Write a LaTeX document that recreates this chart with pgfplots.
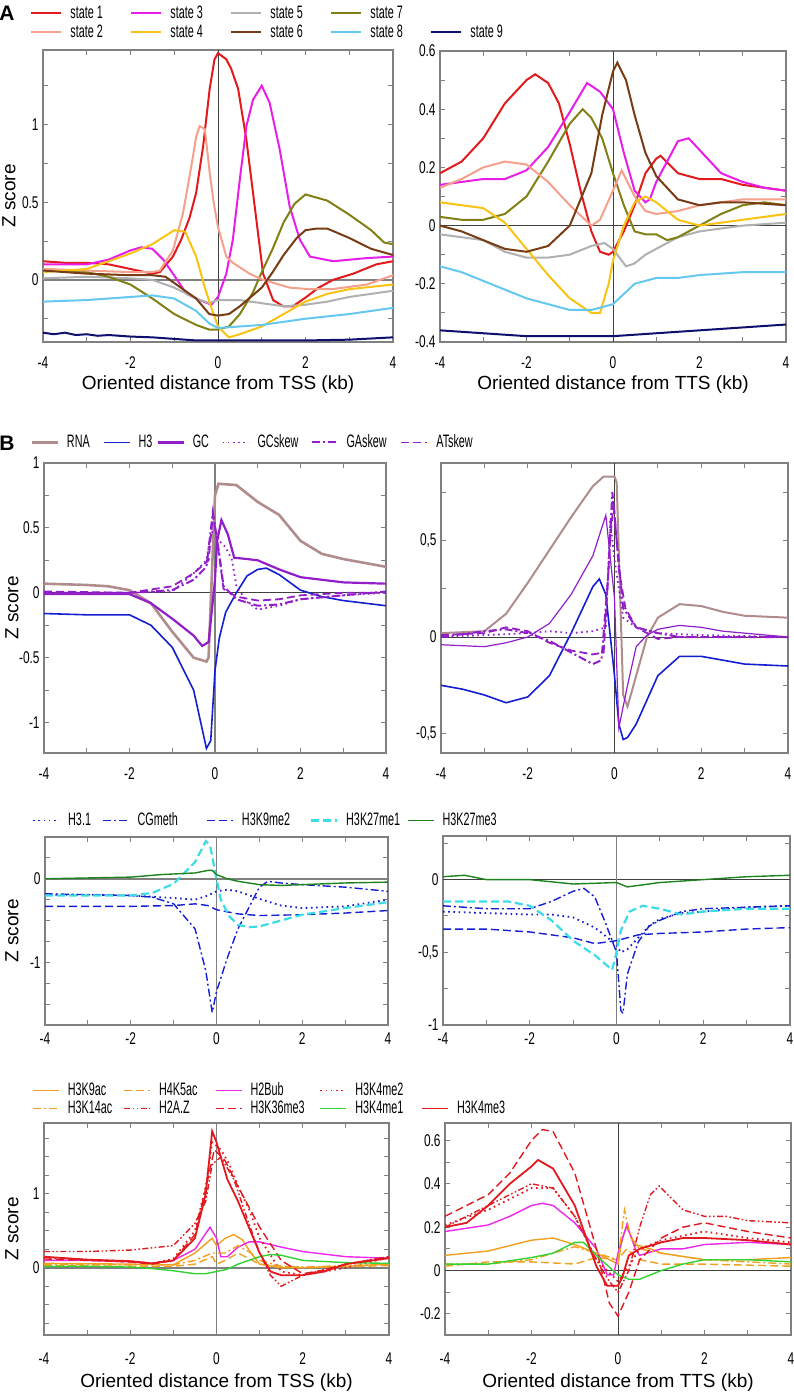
\documentclass[border=0pt]{standalone}
\usepackage{pgfplots}
\pgfplotsset{compat=1.18}
\usepackage{fontspec}
\setmainfont{Liberation Sans}
\newfontfamily\narrow{Liberation Sans}[FakeStretch=0.7]
\newfontfamily\narrowL{Liberation Sans}[FakeStretch=0.6]

\definecolor{axgray}{RGB}{128,128,128}
\definecolor{sA}{RGB}{226,26,28}
\definecolor{sB}{RGB}{245,160,140}
\definecolor{sC}{RGB}{232,30,232}
\definecolor{sD}{RGB}{250,195,20}
\definecolor{sE}{RGB}{176,176,176}
\definecolor{sF}{RGB}{120,60,20}
\definecolor{sG}{RGB}{128,128,20}
\definecolor{sH}{RGB}{100,200,240}
\definecolor{sI}{RGB}{15,15,110}
\definecolor{rna}{RGB}{176,140,140}
\definecolor{hblue}{RGB}{20,30,210}
\definecolor{gcpur}{RGB}{145,30,200}
\definecolor{hcyan}{RGB}{60,220,230}
\definecolor{hgreen}{RGB}{30,130,30}
\definecolor{horange}{RGB}{240,160,30}
\definecolor{hred}{RGB}{225,25,30}
\definecolor{hmag}{RGB}{235,40,235}
\definecolor{hlime}{RGB}{50,210,50}

\tikzset{
  dsh/.style={dash pattern=on 4pt off 2pt},
  dtt/.style={dash pattern=on 0.8pt off 1.8pt},
  dd/.style={dash pattern=on 4pt off 1.5pt on 1pt off 1.5pt},
  ddd/.style={dash pattern=on 3pt off 1.2pt on 0.8pt off 1.2pt on 0.8pt off 1.2pt},
  zl/.style={draw=axgray, line width=0.9pt},
  zk/.style={draw=black!75, line width=0.4pt},
}
\newcommand{\lt}[2]{\makebox[#1][l]{#2}}

\pgfplotsset{
  panel/.style={
    scale only axis, anchor=north west,
    xmin=-4, xmax=4,
    xtick={-4,-2,0,2,4}, xticklabels={-4,-2,0,2,4},
    minor xtick={-3,-1,1,3},
    tick align=inside,
    major tick length=2.6pt, minor tick length=2.6pt,
    axis line style={draw=axgray, line width=0.6pt},
    every tick/.style={draw=axgray, line width=0.5pt},
    tick label style={font=\narrow\fontsize{8.5}{9.5}\selectfont, inner sep=2pt},
    every axis x label/.style={anchor=center, font=\fontsize{9.5}{11}\selectfont},
    every axis y label/.style={anchor=center, rotate=90, font=\fontsize{9.5}{11}\selectfont},
    legend style={draw=none, fill=none, inner sep=0pt, anchor=north west,
      cells={anchor=west},
      nodes={inner sep=0pt, text height=6.5pt, text depth=1.8pt, font=\narrowL\fontsize{9}{10}\selectfont},
      /tikz/every odd column/.style={column sep=4pt},
      /tikz/row sep=1.2pt},
  },
}

\begin{document}
\begin{tikzpicture}
\useasboundingbox (0,0) rectangle (396.5pt,-698.5pt);

\node[font=\bfseries\fontsize{10.5}{12}\selectfont] at (3.5pt,-6.5pt) {A};
\node[font=\bfseries\fontsize{10.5}{12}\selectfont] at (3.5pt,-221.5pt) {B};

% ---------- A, TSS
\begin{axis}[panel, at={(21.5pt,-25pt)}, width=175pt, height=146pt,
  ymin=-0.4, ymax=1.48, ytick={0,0.5,1}, yticklabels={0,0.5,1},
  minor ytick={-0.25,0.25,0.75,1.25},
  xticklabel style={yshift=-5pt},
  xlabel={Oriented distance from TSS (kb)}, xlabel style={at={(axis description cs:0.5,-0.147)}},
  ylabel={Z score}, ylabel style={at={(axis description cs:-0.097,0.5)}},
  legend columns=5, legend style={at={(axis description cs:-0.0371,1.155)}},
  legend image code/.code={\draw[#1] (0pt,0pt) -- (15pt,0pt);},
  every axis plot/.append style={line width=1pt}]
\addplot[forget plot, zl] coordinates {(-4,0) (4,0)};
\addplot[forget plot, zk] coordinates {(0,-0.4) (0,1.48)};
\addplot[sA] coordinates {(-4,0.12) (-3.5,0.11) (-3,0.11) (-2.5,0.1) (-2,0.07) (-1.5,0.04) (-1.33,0.05) (-1.03,0.15) (-0.84,0.26) (-0.65,0.4) (-0.5,0.56) (-0.34,0.86) (-0.19,1.23) (-0.08,1.42) (0,1.46) (0.19,1.42) (0.3,1.36) (0.46,1.23) (0.65,0.9) (0.84,0.47) (1.03,0.04) (1.26,-0.13) (1.49,-0.17) (1.71,-0.17) (2.02,-0.11) (2.3,-0.05) (2.63,0.0) (3.09,0.04) (3.62,0.1) (4,0.12)};
\addlegendentry{\lt{30pt}{state 1}}
\addplot[sC] coordinates {(-4,0.1) (-3,0.1) (-2.5,0.13) (-2,0.19) (-1.75,0.21) (-1.5,0.2) (-1.25,0.13) (-1.03,0.04) (-0.72,-0.09) (-0.42,-0.13) (-0.15,-0.16) (0,-0.11) (0.19,0.04) (0.34,0.26) (0.5,0.65) (0.65,0.99) (0.8,1.16) (1.0,1.25) (1.18,1.14) (1.41,0.84) (1.64,0.47) (1.87,0.26) (2.1,0.15) (2.63,0.12) (3.39,0.14) (4,0.15)};
\addlegendentry{\lt{30pt}{state 3}}
\addplot[sE] coordinates {(-4,0.01) (-3,0.02) (-2,0.01) (-1.5,0.0) (-1,-0.05) (-0.5,-0.12) (-0.2,-0.15) (0,-0.13) (0.5,-0.13) (1.0,-0.15) (1.5,-0.17) (2.0,-0.16) (2.5,-0.14) (3,-0.11) (4,-0.07)};
\addlegendentry{\lt{30pt}{state 5}}
\addplot[sG] coordinates {(-4,0.07) (-3,0.05) (-2.5,0.02) (-2,-0.03) (-1.5,-0.12) (-1,-0.22) (-0.5,-0.29) (-0.2,-0.32) (0,-0.32) (0.25,-0.3) (0.5,-0.22) (0.8,-0.08) (1.0,0.05) (1.25,0.2) (1.5,0.37) (1.75,0.49) (2.0,0.55) (2.5,0.51) (3.0,0.42) (3.5,0.32) (3.8,0.24) (4,0.23)};
\addlegendentry{\lt{30pt}{state 7}}
\addlegendimage{empty legend}
\addlegendentry{}
\addplot[sB] coordinates {(-4,0.07) (-3,0.06) (-2,0.05) (-1.5,0.05) (-1.33,0.06) (-1.03,0.19) (-0.8,0.43) (-0.61,0.73) (-0.5,0.92) (-0.42,0.99) (-0.3,0.97) (-0.19,0.69) (-0.1,0.5) (0,0.34) (0.19,0.15) (0.34,0.11) (0.72,0.04) (1.03,0.0) (1.64,-0.05) (2.1,-0.06) (2.6,-0.06) (3.4,-0.03) (4,0.03)};
\addlegendentry{\lt{30pt}{state 2}}
\addplot[sD] coordinates {(-4,0.05) (-3,0.07) (-2.5,0.12) (-2,0.17) (-1.5,0.23) (-1.0,0.32) (-0.75,0.31) (-0.5,0.15) (-0.3,-0.05) (-0.15,-0.18) (0,-0.3) (0.25,-0.37) (0.5,-0.35) (1.0,-0.3) (1.5,-0.22) (2.0,-0.14) (2.5,-0.09) (3.0,-0.06) (4,-0.03)};
\addlegendentry{\lt{30pt}{state 4}}
\addplot[sF] coordinates {(-4,0.06) (-3,0.04) (-2,0.03) (-1.5,0.03) (-1.2,0.02) (-1.0,-0.02) (-0.5,-0.12) (-0.2,-0.22) (0,-0.23) (0.25,-0.22) (0.5,-0.17) (1,-0.05) (1.25,0.05) (1.5,0.16) (1.8,0.27) (2.0,0.32) (2.25,0.33) (2.5,0.33) (3.0,0.27) (3.5,0.2) (4,0.16)};
\addlegendentry{\lt{30pt}{state 6}}
\addplot[sH] coordinates {(-4,-0.14) (-3,-0.13) (-2,-0.11) (-1.5,-0.1) (-1,-0.12) (-0.5,-0.2) (-0.2,-0.28) (0,-0.31) (0.5,-0.3) (1.0,-0.29) (1.5,-0.27) (2,-0.25) (3,-0.22) (4,-0.18)};
\addlegendentry{\lt{30pt}{state 8}}
\addplot[sI] coordinates {(-4,-0.34) (-3.75,-0.35) (-3.5,-0.34) (-3.25,-0.355) (-3,-0.35) (-2.75,-0.36) (-2.5,-0.355) (-2,-0.365) (-1.5,-0.37) (-1,-0.38) (-0.5,-0.39) (0,-0.39) (1,-0.39) (2,-0.39) (3,-0.385) (4,-0.37)};
\addlegendentry{\lt{30pt}{state 9}}
\end{axis}

% ---------- A, TTS
\begin{axis}[panel, at={(220pt,-25.5pt)}, width=173pt, height=145.5pt,
  ymin=-0.4, ymax=0.6, ytick={-0.4,-0.2,0,0.2,0.4,0.6}, yticklabels={-0.4,-0.2,0,0.2,0.4,0.6},
  minor ytick={-0.3,-0.1,0.1,0.3,0.5},
  xticklabel style={yshift=-5pt},
  xlabel={Oriented distance from TTS (kb)}, xlabel style={at={(axis description cs:0.5,-0.148)}},
  every axis plot/.append style={line width=1pt}]
\addplot[forget plot, zk] coordinates {(-4,0) (4,0)};
\addplot[forget plot, zk] coordinates {(0,-0.4) (0,0.6)};
\addplot[sA] coordinates {(-4,0.18) (-3.75,0.2) (-3.5,0.22) (-3.25,0.26) (-3,0.3) (-2.75,0.36) (-2.5,0.42) (-2.25,0.46) (-2,0.5) (-1.8,0.52) (-1.5,0.49) (-1.25,0.42) (-1,0.28) (-0.75,0.12) (-0.5,-0.02) (-0.3,-0.09) (-0.1,-0.1) (0,-0.09) (0.25,-0.02) (0.5,0.07) (0.75,0.18) (1,0.23) (1.1,0.24) (1.5,0.18) (2,0.16) (2.5,0.16) (3,0.14) (3.5,0.13) (4,0.12)};
\addplot[sC] coordinates {(-4,0.14) (-3.5,0.15) (-3,0.16) (-2.5,0.16) (-2,0.19) (-1.5,0.27) (-1,0.39) (-0.6,0.49) (-0.3,0.46) (0,0.4) (0.25,0.25) (0.5,0.12) (0.75,0.08) (0.85,0.09) (1,0.15) (1.25,0.22) (1.5,0.29) (1.75,0.3) (2,0.26) (2.5,0.18) (3,0.15) (3.5,0.13) (4,0.12)};
\addplot[sE] coordinates {(-4,-0.03) (-3,-0.05) (-2.5,-0.09) (-2,-0.11) (-1.5,-0.11) (-1,-0.1) (-0.5,-0.07) (-0.2,-0.06) (0,-0.08) (0.3,-0.14) (0.5,-0.13) (0.75,-0.1) (1,-0.08) (1.5,-0.04) (2,-0.02) (3,0.0) (4,0.01)};
\addplot[sG] coordinates {(-4,0.03) (-3.5,0.02) (-3,0.02) (-2.5,0.04) (-2,0.1) (-1.5,0.22) (-1,0.35) (-0.7,0.4) (-0.5,0.37) (-0.25,0.3) (0,0.18) (0.25,0.07) (0.5,-0.02) (0.75,-0.03) (1,-0.03) (1.25,-0.05) (1.5,-0.04) (2,0.0) (2.5,0.04) (3,0.07) (3.5,0.08) (4,0.07)};
\addplot[sB] coordinates {(-4,0.13) (-3.5,0.16) (-3,0.2) (-2.5,0.22) (-2,0.21) (-1.5,0.15) (-1,0.07) (-0.5,0.0) (-0.3,0.02) (0,0.12) (0.2,0.19) (0.5,0.1) (0.75,0.05) (1,0.04) (1.5,0.05) (2,0.07) (2.5,0.08) (3,0.09) (4,0.09)};
\addplot[sD] coordinates {(-4,0.08) (-3.5,0.07) (-3,0.06) (-2.5,0.01) (-2,-0.08) (-1.5,-0.17) (-1,-0.25) (-0.5,-0.3) (-0.3,-0.3) (-0.1,-0.2) (0,-0.12) (0.25,0.0) (0.5,0.08) (0.75,0.1) (1,0.08) (1.5,0.02) (2,0.0) (2.5,0.01) (3,0.02) (4,0.04)};
\addplot[sF] coordinates {(-4,0.0) (-3.5,-0.02) (-3,-0.05) (-2.5,-0.08) (-2,-0.09) (-1.5,-0.07) (-1,0.0) (-0.5,0.18) (-0.25,0.38) (0,0.53) (0.1,0.56) (0.3,0.5) (0.5,0.38) (0.75,0.25) (1,0.17) (1.5,0.09) (2,0.07) (2.5,0.08) (3,0.08) (4,0.07)};
\addplot[sH] coordinates {(-4,-0.14) (-3.5,-0.16) (-3,-0.19) (-2.5,-0.22) (-2,-0.25) (-1.5,-0.27) (-1,-0.29) (-0.5,-0.29) (0,-0.27) (0.5,-0.2) (1,-0.18) (1.5,-0.18) (2,-0.17) (3,-0.16) (4,-0.16)};
\addplot[sI] coordinates {(-4,-0.36) (-3,-0.37) (-2,-0.38) (-1,-0.38) (0,-0.38) (1,-0.37) (2,-0.36) (3,-0.35) (4,-0.34)};
\end{axis}

% ---------- B1, TSS
\begin{axis}[panel, at={(22pt,-231.5pt)}, width=171pt, height=145pt,
  ymin=-1.235, ymax=1, ytick={-1,-0.5,0,0.5,1}, yticklabels={-1,-0.5,0,0.5,1},
  minor ytick={-0.75,-0.25,0.25,0.75},
  xticklabel style={yshift=-5pt},
  ylabel={Z score}, ylabel style={at={(axis description cs:-0.0936,0.5)}},
  legend columns=6, legend style={at={(axis description cs:-0.041,1.101)}},
  legend image code/.code={\draw[#1] (0pt,0pt) -- (13pt,0pt);}]
\addplot[forget plot, zk] coordinates {(-4,0) (4,0)};
\addplot[forget plot, zl] coordinates {(0,-1.235) (0,1)};
\addplot[rna, line width=1.3pt] coordinates {(-4,0.07) (-3,0.06) (-2.5,0.05) (-2,0.02) (-1.5,-0.08) (-1,-0.3) (-0.5,-0.5) (-0.2,-0.53) (-0.15,-0.5) (-0.03,0.5) (0,0.75) (0.08,0.84) (0.5,0.83) (1,0.7) (1.5,0.6) (2,0.4) (2.5,0.3) (3,0.26) (3.5,0.23) (4,0.2)};
\addlegendentry{\lt{18pt}{RNA}}
\addplot[hblue, line width=0.8pt] coordinates {(-4,-0.16) (-3,-0.17) (-2,-0.17) (-1.5,-0.25) (-1,-0.42) (-0.5,-0.75) (-0.3,-1.05) (-0.2,-1.2) (-0.1,-1.14) (0,-0.6) (0.1,-0.35) (0.25,-0.15) (0.5,0.0) (0.75,0.13) (1,0.18) (1.2,0.19) (1.5,0.14) (2,0.02) (2.5,-0.03) (3,-0.06) (3.5,-0.08) (4,-0.1)};
\addlegendentry{\lt{9pt}{H3}}
\addplot[gcpur, line width=1.1pt] coordinates {(-4,-0.01) (-3,-0.01) (-2,-0.01) (-1.5,-0.08) (-1,-0.2) (-0.5,-0.33) (-0.3,-0.41) (-0.15,-0.38) (0,0.1) (0.05,0.4) (0.15,0.56) (0.3,0.45) (0.45,0.27) (0.75,0.26) (1,0.25) (1.5,0.18) (2,0.12) (3,0.08) (4,0.07)};
\addlegendentry{\lt{14.5pt}{GC}}
\addplot[gcpur, line width=0.9pt, dtt] coordinates {(-4,0.0) (-2,0.0) (-1,0.01) (-0.5,0.15) (-0.2,0.25) (-0.1,0.45) (0,0.5) (0.1,0.4) (0.25,0.35) (0.4,0.25) (0.5,0.05) (0.75,-0.07) (1,-0.13) (1.5,-0.1) (2,-0.05) (3,-0.02) (4,0.0)};
\addlegendentry{\lt{26.5pt}{GCskew}}
\addplot[gcpur, line width=1pt, dd] coordinates {(-4,0.0) (-2,0.0) (-1,0.02) (-0.5,0.1) (-0.2,0.2) (-0.05,0.62) (0.1,0.3) (0.2,0.05) (0.5,-0.05) (1,-0.1) (1.5,-0.09) (2,-0.05) (3,-0.02) (4,0.01)};
\addlegendentry{\lt{27pt}{GAskew}}
\addplot[gcpur, line width=0.9pt, dsh] coordinates {(-4,0.01) (-2,0.0) (-1,0.05) (-0.5,0.15) (-0.15,0.25) (-0.05,0.6) (0.05,0.4) (0.2,0.03) (0.5,-0.03) (1,-0.06) (1.5,-0.05) (2,-0.02) (3,0.0) (4,0.0)};
\addlegendentry{\lt{25pt}{ATskew}}
\end{axis}

% ---------- B1, TTS
\begin{axis}[panel, at={(220.5pt,-231.5pt)}, width=173.5pt, height=145pt,
  ymin=-0.6, ymax=0.9, ytick={-0.5,0,0.5}, yticklabels={-0{,}5,0,0{,}5},
  minor ytick={-0.25,0.25,0.75},
  xticklabel style={yshift=-5pt}]
\addplot[forget plot, zk] coordinates {(-4,0) (4,0)};
\addplot[forget plot, zk] coordinates {(0,-0.6) (0,0.9)};
\addplot[rna, line width=1pt] coordinates {(-4,0.02) (-3,0.03) (-2.5,0.12) (-2,0.28) (-1.5,0.45) (-1,0.62) (-0.5,0.78) (-0.25,0.83) (0,0.83) (0.05,0.8) (0.2,-0.3) (0.3,-0.36) (0.5,-0.2) (0.75,0.0) (1,0.1) (1.5,0.17) (2,0.16) (2.5,0.13) (3,0.11) (4,0.1)};
\addplot[hblue, line width=0.8pt] coordinates {(-4,-0.25) (-3.5,-0.27) (-3,-0.3) (-2.5,-0.34) (-2,-0.31) (-1.5,-0.2) (-1,0.02) (-0.5,0.26) (-0.35,0.3) (-0.2,0.22) (0,-0.2) (0.1,-0.45) (0.2,-0.53) (0.3,-0.52) (0.5,-0.45) (1,-0.2) (1.5,-0.1) (2,-0.1) (2.5,-0.12) (3,-0.14) (4,-0.15)};
\addplot[gcpur, line width=0.6pt] coordinates {(-4,-0.04) (-3,-0.05) (-2.5,-0.03) (-2,0.0) (-1.5,0.07) (-1,0.22) (-0.5,0.42) (-0.2,0.63) (0,0.2) (0.1,-0.47) (0.3,-0.25) (0.5,-0.05) (0.75,0.01) (1,0.04) (1.5,0.06) (2,0.05) (2.5,0.03) (3,0.02) (4,0.0)};
\addplot[gcpur, line width=0.9pt, dtt] coordinates {(-4,0.0) (-2,0.02) (-1.5,0.03) (-1,0.02) (-0.5,0.03) (-0.2,0.05) (-0.1,0.6) (0,0.4) (0.2,0.1) (0.5,0.05) (1,0.02) (2,0.01) (4,0.0)};
\addplot[gcpur, line width=1pt, dd] coordinates {(-4,0.0) (-3,0.03) (-2.5,0.04) (-2,0.02) (-1.5,-0.02) (-1,-0.08) (-0.5,-0.14) (-0.3,-0.12) (-0.15,0.3) (-0.05,0.75) (0.05,0.5) (0.2,0.15) (0.5,0.05) (1,0.02) (1.5,0.0) (4,0.0)};
\addplot[gcpur, line width=0.9pt, dsh] coordinates {(-4,0.01) (-3,0.02) (-2.5,0.05) (-2,0.03) (-1.5,-0.03) (-1,-0.07) (-0.5,-0.09) (-0.25,-0.08) (-0.1,0.5) (-0.02,0.7) (0.1,0.35) (0.25,0.15) (0.5,0.05) (1,-0.01) (1.5,0.0) (4,0.0)};
\end{axis}

% ---------- B2, TSS
\begin{axis}[panel, at={(22.5pt,-418.5pt)}, width=171.5pt, height=94pt,
  ymin=-1.75, ymax=0.5, ytick={-1,0}, yticklabels={-1,0},
  minor ytick={-1.5,-1.25,-0.75,-0.5,-0.25,0.25},
  xticklabel style={yshift=-1.5pt},
  ylabel={Z score}, ylabel style={at={(axis description cs:-0.0962,0.5)}},
  legend columns=5, legend style={at={(axis description cs:-0.0379,1.1346)}},
  legend image code/.code={\draw[#1] (0pt,0pt) -- (13pt,0pt);},
  every axis plot/.append style={line width=0.7pt}]
\addplot[forget plot, zl] coordinates {(-4,0) (4,0)};
\addplot[forget plot, zl] coordinates {(0,-1.75) (0,0.5)};
\addplot[hblue, dtt, line width=0.9pt] coordinates {(-4,-0.19) (-3,-0.19) (-2,-0.2) (-1,-0.23) (-0.5,-0.25) (-0.2,-0.2) (0,-0.15) (0.25,-0.13) (0.5,-0.15) (1,-0.24) (1.5,-0.32) (2,-0.35) (3,-0.33) (4,-0.25)};
\addlegendentry{\lt{17pt}{H3.1}}
\addplot[hblue, dd] coordinates {(-4,-0.18) (-3,-0.19) (-2,-0.2) (-1.5,-0.22) (-1,-0.3) (-0.5,-0.6) (-0.25,-1.1) (-0.1,-1.6) (0,-1.35) (0.25,-0.95) (0.5,-0.6) (0.75,-0.35) (1,-0.1) (1.2,-0.03) (1.5,-0.05) (2,-0.07) (3,-0.1) (4,-0.15)};
\addlegendentry{\lt{34.5pt}{CGmeth}}
\addplot[hblue, dsh] coordinates {(-4,-0.33) (-2,-0.33) (-1,-0.32) (-0.5,-0.3) (-0.2,-0.32) (0,-0.37) (0.5,-0.42) (1,-0.44) (2,-0.43) (3,-0.41) (4,-0.38)};
\addlegendentry{\lt{34pt}{H3K9me2}}
\addplot[hcyan, dsh, line width=1.1pt] coordinates {(-4,-0.2) (-3,-0.2) (-2,-0.2) (-1.5,-0.17) (-1,-0.06) (-0.5,0.2) (-0.25,0.45) (-0.15,0.4) (0,0.0) (0.1,-0.25) (0.3,-0.45) (0.5,-0.55) (0.75,-0.58) (1,-0.57) (1.5,-0.5) (2,-0.43) (3,-0.35) (4,-0.28)};
\addlegendentry{\lt{30.5pt}{H3K27me1}}
\addplot[hgreen] coordinates {(-4,0.0) (-3,0.01) (-2,0.02) (-1.3,0.05) (-0.5,0.07) (-0.2,0.1) (-0.1,0.1) (0,0.05) (0.25,0.0) (0.5,-0.03) (1,-0.07) (1.5,-0.08) (2,-0.07) (3,-0.05) (4,-0.04)};
\addlegendentry{\lt{30pt}{H3K27me3}}
\end{axis}

% ---------- B2, TTS
\begin{axis}[panel, at={(221.5pt,-418pt)}, width=173.5pt, height=94.5pt,
  ymin=-1, ymax=0.3, ytick={-1,-0.5,0}, yticklabels={-1,-0{,}5,0},
  minor ytick={-0.75,-0.25,0.25},
  xticklabel style={yshift=-1.5pt},
  every axis plot/.append style={line width=0.7pt}]
\addplot[forget plot, zk] coordinates {(-4,0) (4,0)};
\addplot[forget plot, zl] coordinates {(0,-1) (0,0.3)};
\addplot[hblue, dtt, line width=0.9pt] coordinates {(-4,-0.22) (-2,-0.24) (-1.5,-0.24) (-1,-0.26) (-0.5,-0.33) (-0.2,-0.4) (0,-0.45) (0.1,-0.5) (0.25,-0.48) (0.5,-0.4) (0.75,-0.32) (1,-0.27) (1.5,-0.23) (2,-0.22) (3,-0.19) (4,-0.18)};
\addplot[hblue, dd] coordinates {(-4,-0.18) (-3,-0.2) (-2,-0.2) (-1.5,-0.15) (-1,-0.08) (-0.75,-0.06) (-0.5,-0.12) (-0.25,-0.3) (-0.1,-0.42) (0,-0.5) (0.1,-0.9) (0.15,-0.92) (0.25,-0.65) (0.5,-0.43) (0.75,-0.32) (1,-0.28) (1.5,-0.22) (2,-0.2) (3,-0.19) (4,-0.18)};
\addplot[hblue, dsh] coordinates {(-4,-0.34) (-3,-0.34) (-2,-0.36) (-1,-0.4) (-0.5,-0.44) (0,-0.42) (0.5,-0.38) (1,-0.37) (2,-0.36) (3,-0.34) (4,-0.33)};
\addplot[hcyan, dsh, line width=1.1pt] coordinates {(-4,-0.15) (-3,-0.15) (-2.5,-0.15) (-2,-0.18) (-1.5,-0.28) (-1,-0.42) (-0.5,-0.52) (-0.1,-0.62) (0,-0.5) (0.1,-0.35) (0.3,-0.22) (0.6,-0.18) (1,-0.2) (1.5,-0.24) (2,-0.22) (3,-0.2) (4,-0.2)};
\addplot[hgreen] coordinates {(-4,0.02) (-3.5,0.03) (-3,0.0) (-2,0.0) (-1,-0.03) (0,-0.02) (0.25,-0.05) (1,-0.02) (2,0.0) (3,0.02) (4,0.03)};
\end{axis}

% ---------- B3, TSS
\begin{axis}[panel, at={(22pt,-561.5pt)}, width=172.5pt, height=106pt,
  ymin=-0.91, ymax=1.96, ytick={0,1}, yticklabels={0,1},
  minor ytick={-0.75,-0.5,-0.25,0.25,0.5,0.75,1.25,1.5,1.75},
  xticklabel style={yshift=-6.5pt},
  xlabel={Oriented distance from TSS (kb)}, xlabel style={at={(axis description cs:0.5,-0.226)}},
  ylabel={Z score}, ylabel style={at={(axis description cs:-0.0928,0.5)}},
  legend columns=5, legend style={at={(axis description cs:-0.0348,1.1948)}, /tikz/row sep=0.7pt},
  legend image code/.code={\draw[#1] (0pt,0pt) -- (13pt,0pt);},
  every axis plot/.append style={line width=0.7pt}]
\addplot[forget plot, zl] coordinates {(-4,0) (4,0)};
\addplot[forget plot, zl] coordinates {(0,-0.91) (0,1.96)};
\addplot[horange] coordinates {(-4,0.06) (-2,0.05) (-1,0.04) (-0.5,0.2) (-0.1,0.4) (0,0.3) (0.2,0.4) (0.4,0.45) (0.6,0.38) (0.8,0.2) (1,0.05) (1.5,0.0) (2,0.0) (3,0.02) (4,0.05)};
\addlegendentry{\lt{28pt}{H3K9ac}}
\addplot[horange, dsh] coordinates {(-4,0.03) (-2,0.02) (-1,0.02) (-0.5,0.05) (-0.1,0.15) (0,0.05) (0.2,0.1) (0.5,0.2) (1,0.05) (2,0.0) (4,0.03)};
\addlegendentry{\lt{28pt}{H4K5ac}}
\addplot[hmag] coordinates {(-4,0.1) (-3,0.1) (-2,0.08) (-1.5,0.06) (-1,0.1) (-0.5,0.25) (-0.15,0.55) (0,0.4) (0.1,0.15) (0.25,0.15) (0.5,0.28) (0.75,0.35) (1,0.35) (1.5,0.28) (2,0.22) (3,0.15) (4,0.13)};
\addlegendentry{\lt{34.5pt}{H2Bub}}
\addplot[hred, dtt, line width=0.9pt] coordinates {(-4,0.14) (-3,0.11) (-2,0.09) (-1.5,0.06) (-1,0.12) (-0.5,0.5) (-0.25,1.1) (-0.1,1.7) (0.1,1.6) (0.3,1.4) (0.5,1.1) (0.75,0.8) (1,0.4) (1.5,-0.05) (2,-0.1) (3,0.0) (4,0.14)};
\addlegendentry{\lt{33pt}{H3K4me2}}
\addlegendimage{empty legend}
\addlegendentry{}
\addplot[horange, dd] coordinates {(-4,0.05) (-2,0.04) (-1,0.04) (-0.5,0.1) (-0.1,0.2) (0.2,0.2) (0.5,0.3) (0.8,0.2) (1,0.1) (1.5,0.02) (2,0.01) (4,0.05)};
\addlegendentry{\lt{28pt}{H3K14ac}}
\addplot[hred, ddd] coordinates {(-4,0.22) (-3,0.22) (-2,0.24) (-1,0.3) (-0.5,0.6) (-0.25,0.9) (-0.1,1.4) (0.1,1.5) (0.4,1.2) (0.75,0.6) (1,0.2) (1.25,-0.1) (1.5,-0.25) (2,-0.1) (3,0.05) (4,0.15)};
\addlegendentry{\lt{28pt}{H2A.Z}}
\addplot[hred, dsh] coordinates {(-4,0.12) (-3,0.1) (-2,0.08) (-1.5,0.05) (-1,0.1) (-0.5,0.45) (-0.2,1.2) (-0.05,1.6) (0.2,1.45) (0.5,1.1) (1,0.55) (1.5,0.1) (2,-0.08) (2.5,-0.03) (3,0.05) (4,0.15)};
\addlegendentry{\lt{34.5pt}{H3K36me3}}
\addplot[hlime] coordinates {(-4,0.02) (-3,0.02) (-2,0.01) (-1.5,-0.01) (-1,-0.04) (-0.5,-0.08) (-0.25,-0.08) (0,-0.05) (0.25,-0.02) (0.5,0.05) (1,0.15) (1.25,0.18) (1.5,0.17) (2,0.1) (3,0.07) (4,0.06)};
\addlegendentry{\lt{33pt}{H3K4me1}}
\addplot[hred, line width=0.9pt] coordinates {(-4,0.15) (-3,0.11) (-2,0.09) (-1.5,0.06) (-1,0.1) (-0.5,0.4) (-0.25,1.0) (-0.1,1.85) (0,1.7) (0.25,1.2) (0.5,0.9) (0.75,0.55) (1,0.2) (1.25,-0.05) (1.5,-0.1) (2,-0.1) (2.5,-0.05) (3,0.05) (4,0.13)};
\addlegendentry{\lt{30pt}{H3K4me3}}
\end{axis}

% ---------- B3, TTS
\begin{axis}[panel, at={(222.5pt,-561.5pt)}, width=173pt, height=106pt,
  ymin=-0.297, ymax=0.68, ytick={-0.2,0,0.2,0.4,0.6}, yticklabels={-0.2,0,0.2,0.4,0.6},
  minor ytick={-0.1,0.1,0.3,0.5},
  xticklabel style={yshift=-6.5pt},
  xlabel={Oriented distance from TTS (kb)}, xlabel style={at={(axis description cs:0.5,-0.226)}},
  every axis plot/.append style={line width=0.7pt}]
\addplot[forget plot, zk] coordinates {(-4,0) (4,0)};
\addplot[forget plot, zk] coordinates {(0,-0.297) (0,0.68)};
\addplot[horange] coordinates {(-4,0.07) (-3,0.09) (-2,0.14) (-1.5,0.15) (-1,0.12) (-0.5,0.08) (0,0.03) (0.1,0.15) (0.2,0.2) (0.4,0.12) (0.75,0.1) (1,0.08) (2,0.05) (3,0.05) (4,0.06)};
\addplot[horange, dsh] coordinates {(-4,0.02) (-3,0.04) (-2,0.04) (-1,0.03) (-0.5,0.06) (0,0.05) (0.2,0.1) (0.5,0.05) (1,0.03) (2,0.03) (4,0.02)};
\addplot[hmag] coordinates {(-4,0.18) (-3,0.21) (-2.5,0.25) (-2,0.3) (-1.75,0.31) (-1.5,0.3) (-1,0.22) (-0.5,0.1) (-0.25,-0.02) (-0.1,-0.02) (0,0.08) (0.2,0.21) (0.4,0.1) (0.5,0.07) (1,0.1) (1.5,0.1) (2,0.12) (3,0.13) (4,0.12)};
\addplot[hred, dtt, line width=0.9pt] coordinates {(-4,0.21) (-3,0.28) (-2.5,0.33) (-2,0.38) (-1.5,0.38) (-1,0.25) (-0.5,0.05) (0,-0.05) (0.25,0.02) (0.5,0.1) (1,0.14) (1.5,0.16) (2,0.18) (3,0.15) (4,0.13)};
\addplot[horange, dd] coordinates {(-4,0.03) (-3,0.03) (-2,0.05) (-1,0.11) (-0.5,0.08) (0,0.05) (0.15,0.28) (0.3,0.15) (0.5,0.1) (1,0.08) (2,0.05) (3,0.04) (4,0.03)};
\addplot[hred, ddd] coordinates {(-4,0.2) (-3,0.3) (-2,0.4) (-1.5,0.38) (-1,0.25) (-0.5,0.05) (-0.2,-0.05) (0,-0.1) (0.25,0.0) (0.5,0.2) (0.75,0.35) (0.95,0.39) (1.25,0.33) (1.5,0.28) (2,0.25) (2.5,0.25) (3,0.23) (4,0.22)};
\addplot[hred, dsh] coordinates {(-4,0.25) (-3,0.35) (-2.5,0.45) (-2,0.6) (-1.75,0.65) (-1.5,0.64) (-1,0.45) (-0.5,0.1) (-0.2,-0.15) (0,-0.21) (0.25,-0.1) (0.5,0.05) (1,0.15) (1.5,0.2) (2,0.22) (3,0.18) (4,0.15)};
\addplot[hlime] coordinates {(-4,0.03) (-3,0.03) (-2,0.06) (-1.5,0.08) (-1,0.13) (-0.8,0.13) (-0.5,0.07) (0,-0.02) (0.25,-0.04) (0.5,-0.04) (1,0.0) (1.5,0.03) (2,0.05) (3,0.05) (4,0.04)};
\addplot[hred, line width=0.9pt] coordinates {(-4,0.2) (-3.5,0.22) (-3,0.3) (-2.5,0.4) (-2,0.48) (-1.85,0.51) (-1.5,0.47) (-1,0.3) (-0.5,0.02) (-0.25,-0.07) (0,-0.07) (0.1,-0.03) (0.25,0.07) (0.5,0.1) (1,0.13) (1.5,0.15) (2,0.15) (3,0.14) (4,0.12)};
\end{axis}
\end{tikzpicture}
\end{document}
